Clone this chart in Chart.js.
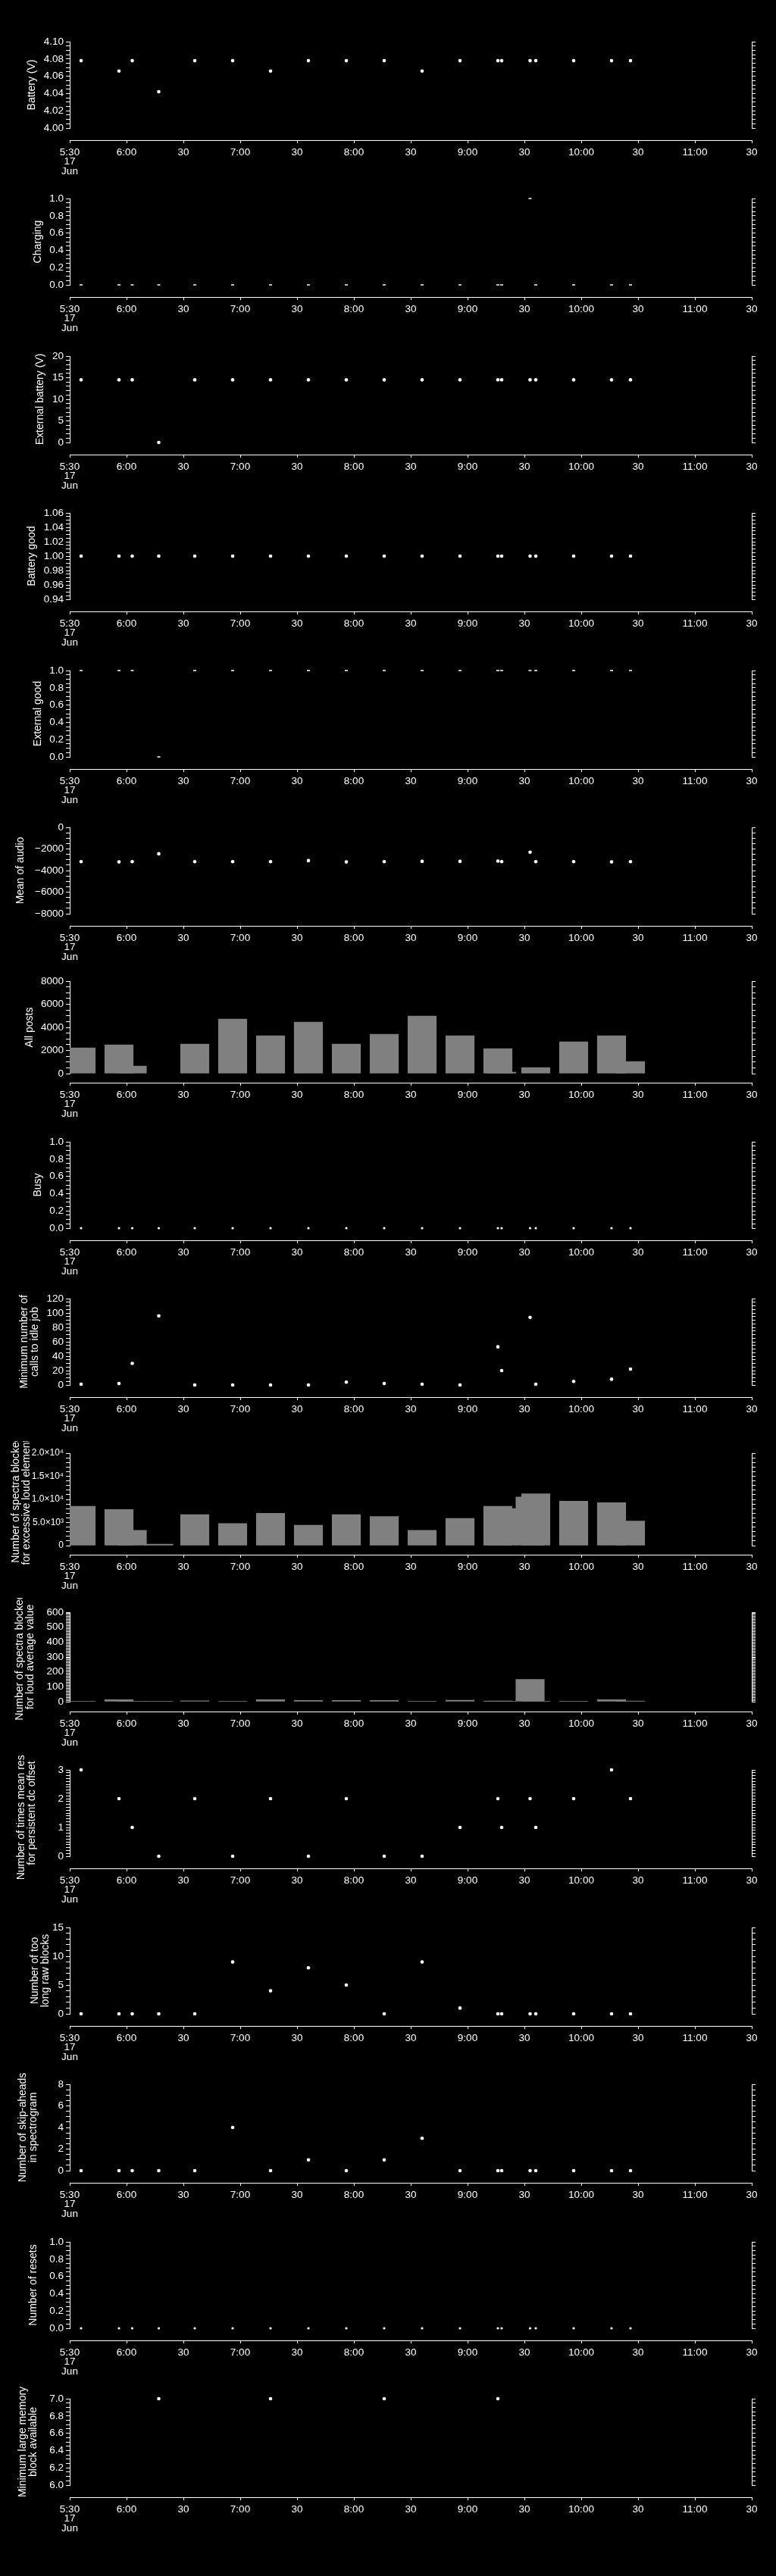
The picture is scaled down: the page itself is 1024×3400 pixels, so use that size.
<!DOCTYPE html>
<html>
<head>
<meta charset="utf-8">
<script src="https://cdn.jsdelivr.net/npm/chart.js@4/dist/chart.umd.min.js"></script>
<style>
  html, body { margin: 0; padding: 0; background: #000; }
  #wrap { position: relative; width: 1024px; height: 3400px; background: #000; overflow: hidden; }
  #wrap canvas { position: absolute; left: 0; }
</style>
</head>
<body>
<div id="wrap"></div>
<script>
// ---- sample times (17 Jun) ----
const sampleTimes = ['5:36','5:56','6:03','6:17','6:36','6:56','7:16','7:36','7:56','8:16',
                     '8:36','8:56','9:16','9:18','9:33','9:36','9:56','10:16','10:26'];

// ---- time axis ----
const xTickTimes  = ['5:30','6:00','6:30','7:00','7:30','8:00','8:30','9:00','9:30','10:00','10:30','11:00','11:30'];
const xTickLabels = ['5:30','6:00','30','7:00','30','8:00','30','9:00','30','10:00','30','11:00','30'];
const dateLabel   = ['17','Jun'];

// ---- series ----
const battery      = [4.078,4.066,4.078,4.042,4.078,4.078,4.066,4.078,4.078,4.078,4.066,4.078,4.078,4.078,4.078,4.078,4.078,4.078,4.078];
const charging     = [0,0,0,0,0,0,0,0,0,0,0,0,0,0,1,0,0,0,0];
const extBattery   = [14.5,14.5,14.5,0,14.5,14.5,14.5,14.5,14.5,14.5,14.5,14.5,14.5,14.5,14.5,14.5,14.5,14.5,14.5];
const batteryGood  = [1,1,1,1,1,1,1,1,1,1,1,1,1,1,1,1,1,1,1];
const externalGood = [1,1,1,0,1,1,1,1,1,1,1,1,1,1,1,1,1,1,1];
const meanAudio    = [-3180,-3200,-3180,-2450,-3180,-3180,-3180,-3080,-3200,-3180,-3150,-3150,-3120,-3180,-2300,-3180,-3180,-3200,-3180];
const allPosts     = [2230,2490,650,-80,2560,4720,3280,4460,2560,3410,4980,3280,2160,130,-60,520,2750,3280,1050];
const busy         = [0,0,0,0,0,0,0,0,0,0,0,0,0,0,0,0,0,0,0];
const idleCalls    = [1,2,30,96,0,0,0,0,4,2,1,0,53,20,94,1,5,8,22];
const loudElements = [8500,7800,3300,300,6700,4800,7000,4400,6700,6300,3300,5900,8500,8000,10500,11200,9600,9300,5300];
const loudAverage  = [3,14,2,1,6,3,14,8,9,8,2,10,5,4,150,4,3,14,5];
const meanResets   = [3,2,1,0,2,0,2,0,2,0,0,1,2,1,2,1,2,3,2];
const longBlocks   = [0,0,0,0,0,9,4,8,5,0,9,1,0,0,0,0,0,0,0];
const skipAheads   = [0,0,0,0,0,4,0,1,0,1,3,0,0,0,0,0,0,0,0];
const resets       = [0,0,0,0,0,0,0,0,0,0,0,0,0,0,0,0,0,0,0];
const memoryBlock  = [null,null,null,7.0,null,null,7.0,null,null,7.0,null,null,7.0,null,null,null,null,null,null];

// ---- y tick labels ----
const batteryTicks  = ['4.00','4.02','4.04','4.06','4.08','4.10'];
const unitTicks     = ['0.0','0.2','0.4','0.6','0.8','1.0'];
const extTicks      = ['0','5','10','15','20'];
const goodTicks     = ['0.94','0.96','0.98','1.00','1.02','1.04','1.06'];
const audioTicks    = ['\u22128000','\u22126000','\u22124000','\u22122000','0'];
const postsTicks    = ['0','2000','4000','6000','8000'];
const callsTicks    = ['0','20','40','60','80','100','120'];
const loudTicks     = ['0','5.0\u00d710\u00b3','1.0\u00d710\u2074','1.5\u00d710\u2074','2.0\u00d710\u2074'];
const avgTicks      = ['0','100','200','300','400','500','600'];
const resetTicks    = ['0','1','2','3'];
const longTicks     = ['0','5','10','15'];
const skipTicks     = ['0','2','4','6','8'];
const memTicks      = ['6.0','6.2','6.4','6.6','6.8','7.0'];

const toMin = t => { const [h, m] = t.split(':').map(Number); return h * 60 + m; };
const xs = sampleTimes.map(toMin);
const xTickMinutes = xTickTimes.map(toMin);

const FONT = "'Liberation Sans', Arial, Helvetica, sans-serif";
const tickFont  = { family: FONT, size: 13.5, lineHeight: '12.5px' };
const titleFont = { family: FONT, size: 14, lineHeight: 1 };
const WHITE = '#ffffff';

// panel definitions: data + axis range; layout values per panel
const panels = [
  { title: 'Battery (V)', kind: 'dot', values: battery, lo: 4.00, hi: 4.10, step: 0.02, minor: 0.005, labels: batteryTicks, titleX: 42 },
  { title: 'Charging', kind: 'dash', values: charging, lo: 0, hi: 1, step: 0.2, minor: 0.05, labels: unitTicks, titleX: 50 },
  { title: 'External battery (V)', kind: 'dot', values: extBattery, lo: 0, hi: 20, step: 5, minor: 1, labels: extTicks, titleX: 53 },
  { title: 'Battery good', kind: 'dot', values: batteryGood, lo: 0.94, hi: 1.06, step: 0.02, minor: 0.005, labels: goodTicks, titleX: 42 },
  { title: 'External good', kind: 'dash', values: externalGood, lo: 0, hi: 1, step: 0.2, minor: 0.05, labels: unitTicks, titleX: 50 },
  { title: 'Mean of audio', kind: 'dot', values: meanAudio, lo: -8000, hi: 0, step: 2000, minor: 500, labels: audioTicks, titleX: 27 },
  { title: 'All posts', kind: 'bar', values: allPosts, lo: 0, hi: 8000, step: 2000, minor: 500, labels: postsTicks, titleX: 39, plotH: 122, gapH: 12 },
  { title: 'Busy', kind: 'small', values: busy, lo: 0, hi: 1, step: 0.2, minor: 0.05, labels: unitTicks, titleX: 50 },
  { title: ['Minimum number of', 'calls to idle job'], kind: 'dot', values: idleCalls, lo: 0, hi: 120, step: 20, minor: 5, labels: callsTicks, titleX: 32 },
  { title: ['Number of spectra blocked', 'for excessive loud elements'], kind: 'bar', values: loudElements, lo: 0, hi: 20000, step: 5000, minor: 1000, labels: loudTicks, titleX: 21, tickSize: 12, plotH: 122, gapH: 12 },
  { title: ['Number of spectra blocked', 'for loud average value'], kind: 'bar', values: loudAverage, lo: 0, hi: 600, step: 100, minor: 10, labels: avgTicks, titleX: 26, plotH: 118, gapH: 13 },
  { title: ['Number of times mean reset', 'for persistent dc offset'], kind: 'dot', values: meanResets, lo: 0, hi: 3, step: 1, minor: 0.1, labels: resetTicks, titleX: 28 },
  { title: ['Number of too', 'long raw blocks'], kind: 'dot', values: longBlocks, lo: 0, hi: 15, step: 5, minor: 1, labels: longTicks, titleX: 46 },
  { title: ['Number of skip-aheads', 'in spectrogram'], kind: 'dot', values: skipAheads, lo: 0, hi: 8, step: 2, minor: 0.5, labels: skipTicks, titleX: 30 },
  { title: 'Number of resets', kind: 'small', values: resets, lo: 0, hi: 1, step: 0.2, minor: 0.05, labels: unitTicks, titleX: 44 },
  { title: ['Minimum large memory', 'block available'], kind: 'dot', values: memoryBlock, lo: 6.0, hi: 7.0, step: 0.2, minor: 0.05, labels: memTicks, titleX: 30 }
];

function makeTicks(p) {
  const out = [];
  const n = Math.round((p.hi - p.lo) / p.minor);
  for (let k = 0; k <= n; k++) {
    const v = +(p.lo + k * p.minor).toFixed(9);
    const q = (v - p.lo) / p.step;
    const major = Math.abs(q - Math.round(q)) < 1e-6;
    out.push({ value: v, label: major ? p.labels[Math.round(q)] : '' });
  }
  return out;
}

function points(values) {
  const out = [];
  values.forEach((v, i) => { if (v !== null) out.push({ x: xs[i], y: v }); });
  return out;
}

const wrap = document.getElementById('wrap');
const PANEL_PITCH = 207.4, FIRST_AXIS = 185, AXIS_IN_CANVAS = 150, CANVAS_H = 207;

panels.forEach((p, i) => {
  const axisY = Math.round(FIRST_AXIS + PANEL_PITCH * i);
  const canvas = document.createElement('canvas');
  canvas.width = 1024;
  canvas.height = CANVAS_H;
  canvas.style.top = (axisY - AXIS_IN_CANVAS) + 'px';
  canvas.style.width = '1024px';
  canvas.style.height = CANVAS_H + 'px';
  wrap.appendChild(canvas);

  const plotH = p.plotH || 114;
  const gapH = p.gapH || 16;
  const yTicks = makeTicks(p);
  const yTickFont = Object.assign({}, tickFont, p.tickSize ? { size: p.tickSize } : {});

  let dataset;
  if (p.kind === 'bar') {
    dataset = {
      type: 'bar', data: points(p.values), yAxisID: 'y',
      backgroundColor: '#808080', borderWidth: 0, barThickness: 37.5, grouped: false
    };
  } else {
    const style = {
      dot:   { pointStyle: 'circle', pointRadius: 2.3, pointBorderWidth: 0 },
      small: { pointStyle: 'circle', pointRadius: 1.6, pointBorderWidth: 0 },
      dash:  { pointStyle: 'line', pointRadius: 2, pointBorderWidth: 1.5 }
    }[p.kind];
    dataset = Object.assign({
      type: 'scatter', data: points(p.values), yAxisID: 'y', showLine: false, clip: false,
      backgroundColor: WHITE, borderColor: WHITE, pointBackgroundColor: WHITE, pointBorderColor: WHITE
    }, style);
  }

  const yTickBuild = s => { s.ticks = yTicks.map(t => ({ value: t.value })); };

  new Chart(canvas, {
    type: p.kind === 'bar' ? 'bar' : 'scatter',
    data: { datasets: [dataset] },
    options: {
      responsive: false,
      animation: false,
      devicePixelRatio: 1,
      events: [],
      layout: { padding: { top: AXIS_IN_CANVAS - plotH - gapH, left: 0, right: 0, bottom: 0 } },
      plugins: { legend: { display: false }, tooltip: { enabled: false } },
      scales: {
        x: {
          type: 'linear', position: 'bottom', offset: false,
          min: toMin('5:30'), max: toMin('11:30'),
          afterBuildTicks: s => { s.ticks = xTickMinutes.map(v => ({ value: v })); },
          afterFit: s => { s.height = CANVAS_H - AXIS_IN_CANVAS; },
          grid: { display: true, drawOnChartArea: false, drawTicks: true, tickLength: 4, tickColor: WHITE, tickWidth: 1, offset: false },
          border: { display: true, color: WHITE, width: 1 },
          ticks: {
            color: WHITE, font: tickFont, padding: 6, maxRotation: 0, autoSkip: false,
            callback: (v, idx) => idx === 0 ? [xTickLabels[0]].concat(dateLabel) : xTickLabels[idx]
          }
        },
        y: {
          type: 'linear', position: 'left', stack: 'L', stackWeight: plotH, weight: 1,
          min: p.lo, max: p.hi,
          afterBuildTicks: yTickBuild,
          afterFit: s => { s.width = 92; },
          grid: { display: true, drawOnChartArea: false, drawTicks: true, tickLength: 5, tickColor: WHITE, tickWidth: 1 },
          border: { display: true, color: WHITE, width: 1 },
          ticks: { color: WHITE, font: yTickFont, padding: 3, autoSkip: false, callback: (v, idx) => yTicks[idx] ? yTicks[idx].label : '' },
          title: { display: true, text: p.title, color: WHITE, font: titleFont, padding: { top: p.titleX - 7, bottom: 0 } }
        },
        gapL: {
          type: 'linear', position: 'left', stack: 'L', stackWeight: gapH, weight: 0,
          grid: { display: false }, border: { display: false }, ticks: { display: false }
        },
        yr: {
          type: 'linear', position: 'right', stack: 'R', stackWeight: plotH, weight: 0,
          min: p.lo, max: p.hi,
          afterBuildTicks: yTickBuild,
          afterFit: s => { s.width = 32; },
          grid: { display: true, drawOnChartArea: false, drawTicks: true, tickLength: 5, tickColor: WHITE, tickWidth: 1 },
          border: { display: true, color: WHITE, width: 1 },
          ticks: { display: false, autoSkip: false }
        },
        gapR: {
          type: 'linear', position: 'right', stack: 'R', stackWeight: gapH, weight: 1,
          grid: { display: false }, border: { display: false }, ticks: { display: false }
        }
      }
    }
  });
});
</script>
</body>
</html>
